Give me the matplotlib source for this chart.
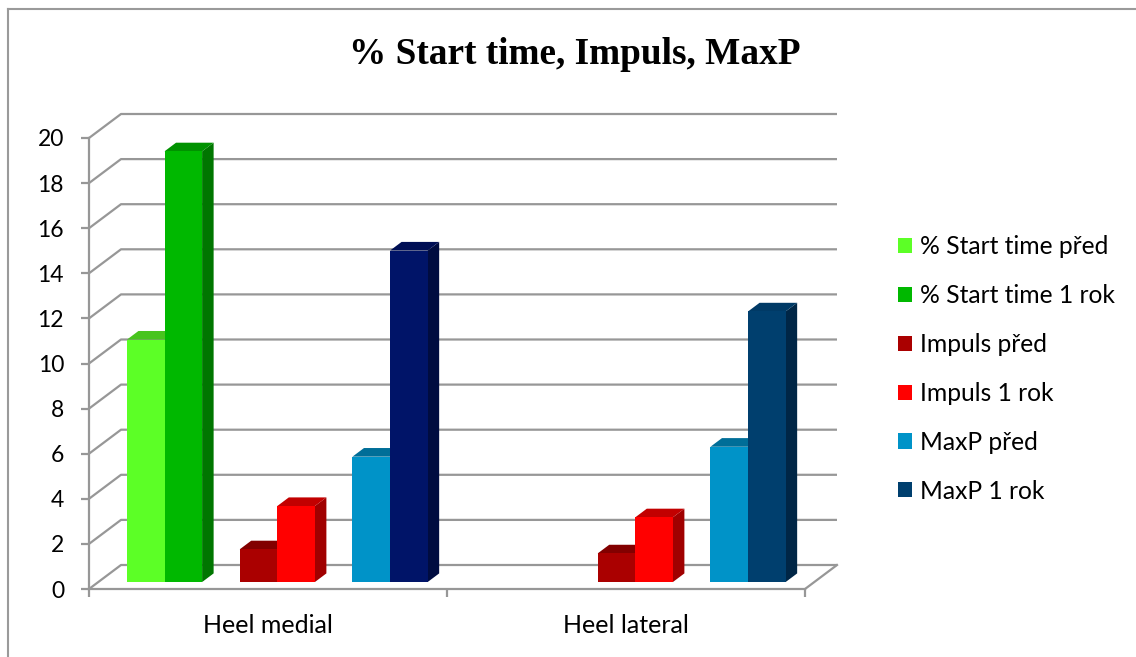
import matplotlib
matplotlib.use("Agg")
import matplotlib.pyplot as plt
from matplotlib.patches import Polygon, Patch
from matplotlib.lines import Line2D

# ---- data ----
categories = ["Heel medial", "Heel lateral"]
series_names = ["% Start time před", "% Start time 1 rok",
                "Impuls před", "Impuls 1 rok",
                "MaxP před", "MaxP 1 rok"]
start_pred = [10.75, 0]
start_1rok = [19.1, 0]
impuls_pred = [1.45, 1.27]
impuls_1rok = [3.37, 2.87]
maxp_pred = [5.56, 6.0]
maxp_1rok = [14.7, 12.0]
y_ticks = list(range(0, 21, 2))

series_values = [start_pred, start_1rok, impuls_pred, impuls_1rok,
                 maxp_pred, maxp_1rok]

# ---- styling: (front, top, side) shades per series ----
shades = [
    ("#5CFF26", "#48C41E", "#3A9E18"),
    ("#00B800", "#009200", "#007600"),
    ("#AA0000", "#820000", "#6E0000"),
    ("#FF0000", "#C20000", "#A00000"),
    ("#0093C8", "#006E98", "#005A7C"),
    ("#003F6E", "#003A66", "#002646"),
]
# the medial "MaxP 1 rok" column is painted in navy
point_shades = {(5, 0): ("#001468", "#000F55", "#000C40")}
slot_of_series = [0, 1, 3, 4, 6, 7]   # empty slots separate the pairs
n_slots = 8
slot_w = 0.105

grid_col = "#979797"
W, H, DPI = 1136, 657, 100
fig = plt.figure(figsize=(W / DPI, H / DPI), dpi=DPI)

# plot area: front plane of the 3-D box
x0p, x1p, y0p, y1p = 89, 805, 589, 138
ax = fig.add_axes([x0p / W, 1 - y0p / H, (x1p - x0p) / W, (y0p - y1p) / H])
ax.set_xlim(0, 2)
ax.set_ylim(0, 20)

px_x = 2 / (x1p - x0p)          # data units per pixel (x)
px_y = 20 / (y0p - y1p)         # data units per pixel (y)
DX, DY = 32 * px_x, 24 * px_y   # full depth of the box
f_front, f_depth = 0.29, 0.36   # column front offset and column depth

# back wall and side wall gridlines
for v in y_ticks:
    ax.plot([0, DX, 2 + DX], [v, v + DY, v + DY], color=grid_col, lw=1.6,
            zorder=1, clip_on=False, solid_capstyle="butt")
ax.plot([2, 2 + DX], [0, DY], color=grid_col, lw=1.6, zorder=1, clip_on=False)

# columns
ox, oy = f_front * DX, f_front * DY
bdx, bdy = f_depth * DX, f_depth * DY
for ci in range(len(categories)):
    centre = ci + 0.5
    for si, vals in enumerate(series_values):
        v = vals[ci]
        if v <= 0:
            continue
        front, top, side = point_shades.get((si, ci), shades[si])
        xl = centre + (slot_of_series[si] - n_slots / 2) * slot_w + ox
        xr = xl + slot_w
        yb, yt = oy, v + oy
        z = 3 + si
        ax.add_patch(Polygon([(xr, yb), (xr, yt), (xr + bdx, yt + bdy),
                              (xr + bdx, yb + bdy)], closed=True,
                             facecolor=side, edgecolor="none", zorder=z,
                             clip_on=False))
        ax.add_patch(Polygon([(xl, yt), (xr, yt), (xr + bdx, yt + bdy),
                              (xl + bdx, yt + bdy)], closed=True,
                             facecolor=top, edgecolor="none", zorder=z,
                             clip_on=False))
        ax.add_patch(Polygon([(xl, yb), (xr, yb), (xr, yt), (xl, yt)],
                             closed=True, facecolor=front, edgecolor="none",
                             zorder=z + 0.5, clip_on=False))

# axes, ticks and labels
tick_font = "Lato"
for s in ["top", "right"]:
    ax.spines[s].set_visible(False)
for s in ["left", "bottom"]:
    ax.spines[s].set_color(grid_col)
    ax.spines[s].set_linewidth(1.6)
    ax.spines[s].set_zorder(2)
ax.set_yticks(y_ticks)
ax.set_yticklabels([str(t) for t in y_ticks], fontsize=16.5,
                   fontfamily=tick_font)
ax.tick_params(axis="y", length=6, width=1.6, color=grid_col, pad=12)
ax.set_xticks([0, 1, 2])
ax.set_xticklabels([])
ax.set_xticks([0.5, 1.5], minor=True)
ax.set_xticklabels(categories, minor=True, fontsize=18,
                   fontfamily=tick_font)
ax.tick_params(axis="x", which="major", length=6, width=1.6, color=grid_col)
ax.tick_params(axis="x", which="minor", length=0, pad=18)
ax.set_facecolor("none")

# title
fig.text(575 / W, 1 - 54 / H, "% Start time, Impuls, MaxP",
         ha="center", va="center", fontsize=26.8, fontweight="bold",
         fontfamily="Liberation Serif")

# legend
handles = [Patch(facecolor=shades[i][0], edgecolor="none")
           for i in range(len(series_names))]
fig.legend(handles, series_names, loc="center left",
           bbox_to_anchor=(898 / W, 1 - 369 / H), frameon=False,
           prop={"family": tick_font, "size": 17.7},
           handlelength=0.57, handleheight=0.57, handletextpad=0.33,
           labelspacing=1.05, borderpad=0, borderaxespad=0)

# chart frame (left and top edges)
fig.add_artist(Line2D([8 / W, 8 / W], [0, 1 - 9 / H], color="#9a9a9a",
                      lw=1.5, transform=fig.transFigure))
fig.add_artist(Line2D([8 / W, 1], [1 - 9 / H, 1 - 9 / H], color="#9a9a9a",
                      lw=1.5, transform=fig.transFigure))

fig.savefig("out.png", dpi=DPI, facecolor="white")
